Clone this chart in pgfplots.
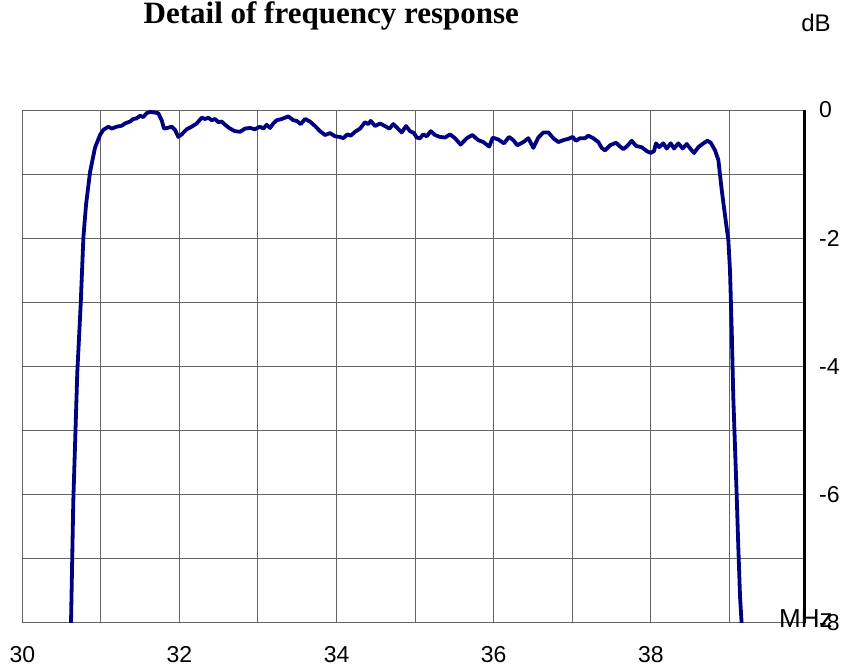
\documentclass[border=0pt]{standalone}
\usepackage{pgfplots}
\pgfplotsset{compat=1.18}
\usepackage{fontspec}
\setmainfont{Liberation Sans}
\newfontfamily\titlefont{Liberation Serif}
\definecolor{curve}{RGB}{0,0,128}
\definecolor{gridc}{RGB}{100,100,100}
\begin{document}
\begin{tikzpicture}
\begin{axis}[
  name=ax,
  at={(0pt,0pt)}, anchor=south west,
  scale only axis, width=781.7pt, height=513pt,
  xmin=30, xmax=39.95, ymin=-8, ymax=0,
  xtick={30,31,32,33,34,35,36,37,38,39},
  xticklabels={30,,32,,34,,36,,38,},
  ytick={-8,-7,-6,-5,-4,-3,-2,-1,0},
  yticklabels={-8,,-6,,-4,,-2,,0},
  grid=major, grid style={color=gridc, line width=1pt},
  major tick length=0pt,
  axis line style={color=gridc, line width=1pt},
  yticklabel pos=right,
  ticklabel style={font=\fontsize{23}{27}\selectfont},
  yticklabel style={anchor=west, inner sep=0pt, xshift=15pt},
  xticklabel style={anchor=center, inner sep=0pt, yshift=-32pt},
]
\addplot[color=curve, line width=3.8pt, line join=round, no markers] coordinates {
(30.605,-9.0) (30.620,-8.0) (30.649,-6.11) (30.700,-4.09) (30.743,-3.04)
(30.777,-2.00) (30.811,-1.48) (30.862,-0.97) (30.925,-0.59) (30.989,-0.39)
(31.031,-0.31) (31.095,-0.26) (31.138,-0.29) (31.202,-0.26) (31.265,-0.245)
(31.307,-0.21) (31.371,-0.18) (31.413,-0.14) (31.456,-0.13) (31.498,-0.09)
(31.540,-0.11) (31.583,-0.05) (31.626,-0.03) (31.689,-0.04) (31.731,-0.05)
(31.774,-0.16) (31.804,-0.29) (31.846,-0.28) (31.902,-0.26) (31.944,-0.31)
(31.986,-0.42) (32.029,-0.38) (32.093,-0.30) (32.156,-0.26) (32.220,-0.21)
(32.284,-0.12) (32.326,-0.14) (32.368,-0.12) (32.411,-0.16) (32.453,-0.14)
(32.495,-0.19) (32.538,-0.18) (32.580,-0.23) (32.644,-0.29) (32.707,-0.33)
(32.771,-0.34) (32.835,-0.29) (32.898,-0.28) (32.962,-0.30) (33.026,-0.26)
(33.068,-0.29) (33.111,-0.23) (33.153,-0.28) (33.195,-0.21) (33.238,-0.16)
(33.302,-0.14) (33.386,-0.10) (33.450,-0.16) (33.493,-0.17) (33.544,-0.22)
(33.599,-0.14) (33.662,-0.18) (33.726,-0.25) (33.790,-0.33) (33.853,-0.39)
(33.917,-0.36) (33.980,-0.41) (34.044,-0.42) (34.086,-0.44) (34.137,-0.38)
(34.180,-0.40) (34.235,-0.34) (34.299,-0.29) (34.362,-0.19) (34.404,-0.22)
(34.435,-0.17) (34.490,-0.25) (34.553,-0.21) (34.617,-0.25) (34.672,-0.29)
(34.723,-0.22) (34.773,-0.28) (34.829,-0.35) (34.884,-0.25) (34.935,-0.33)
(34.986,-0.36) (35.020,-0.43) (35.062,-0.44) (35.104,-0.38) (35.148,-0.41)
(35.199,-0.33) (35.253,-0.39) (35.317,-0.42) (35.381,-0.43) (35.444,-0.38)
(35.508,-0.44) (35.580,-0.54) (35.657,-0.44) (35.728,-0.39) (35.804,-0.47)
(35.868,-0.50) (35.944,-0.57) (35.988,-0.43) (36.059,-0.46) (36.132,-0.52)
(36.195,-0.42) (36.250,-0.47) (36.301,-0.55) (36.377,-0.50) (36.441,-0.44)
(36.505,-0.59) (36.568,-0.43) (36.632,-0.35) (36.696,-0.35) (36.759,-0.44)
(36.823,-0.50) (36.887,-0.47) (36.950,-0.45) (37.006,-0.42) (37.048,-0.48)
(37.099,-0.44) (37.163,-0.44) (37.205,-0.40) (37.268,-0.44) (37.332,-0.50)
(37.375,-0.59) (37.417,-0.63) (37.481,-0.55) (37.557,-0.51) (37.599,-0.56)
(37.650,-0.61) (37.701,-0.56) (37.757,-0.48) (37.812,-0.56) (37.884,-0.58)
(37.948,-0.64) (37.999,-0.67) (38.041,-0.64) (38.066,-0.52) (38.108,-0.58)
(38.159,-0.52) (38.203,-0.60) (38.254,-0.52) (38.296,-0.60) (38.350,-0.52)
(38.406,-0.60) (38.457,-0.53) (38.508,-0.61) (38.550,-0.67) (38.605,-0.58)
(38.669,-0.52) (38.720,-0.48) (38.763,-0.51) (38.818,-0.63) (38.860,-0.78)
(38.903,-1.25) (38.958,-1.77) (38.987,-2.03) (39.008,-2.50) (39.030,-3.44)
(39.050,-4.48) (39.072,-5.26) (39.094,-6.04) (39.114,-6.82) (39.136,-7.60)
(39.157,-8.02) (39.175,-9.0)
};
\end{axis}
\draw[black, line width=3pt] (ax.south east) -- (ax.north east);
\node[anchor=base, inner sep=0pt, font=\titlefont\bfseries\fontsize{31}{35}\selectfont] at (309pt,599pt) {Detail of frequency response};
\node[anchor=base, inner sep=0pt, font=\fontsize{24}{28}\selectfont] at (793.7pt,591pt) {dB};
\node[anchor=base west, inner sep=0pt, font=\fontsize{26}{30}\selectfont] at (756.7pt,-5pt) {MHz};
\pgfresetboundingbox
\path (-22.3pt,-49pt) rectangle (821.7pt,623pt);
\end{tikzpicture}
\end{document}
